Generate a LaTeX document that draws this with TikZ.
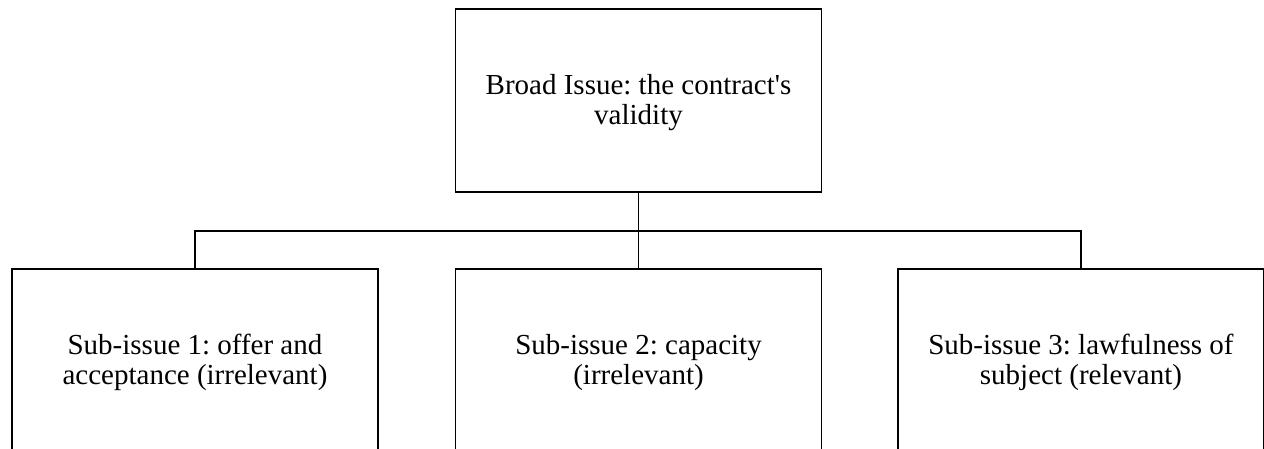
\documentclass[tikz,border=0pt]{standalone}
\usepackage{fontspec}
\setmainfont{Liberation Serif}
\usepackage{tikz}
\newcommand{\issuefont}{\fontsize{29}{29.5}\selectfont\frenchspacing\hyphenpenalty10000 }

\begin{document}
\begin{tikzpicture}[x=1pt, y=-1pt, line width=1.9pt,
  issuebox/.style={draw, minimum width=366pt, minimum height=183pt,
    text width=345pt, align=flush center, inner sep=0pt, font=\issuefont,
    execute at begin node={\rule{0pt}{24pt}}}]
  \def\ry{360.5} % row of the sub-issues
  \clip (0,0) rectangle (1264,449);
  % broad issue
  \node[issuebox] (broad) at (638.5,100.5) {Broad Issue: the contract\textquotesingle s validity};
  \coordinate (bus) at (638.5,231);
  \draw (broad.south) -- (bus);
  % sub-issues
  \foreach \i/\xx/\txt in {
    1/195/{Sub-issue 1: offer and acceptance (irrelevant)},
    2/638.5/{Sub-issue 2: capacity (irrelevant)},
    3/1081/{Sub-issue 3: lawfulness of subject (relevant)}}
  {
    \node[issuebox] (sub\i) at (\xx,\ry) {\txt};
    \draw (bus) -| (sub\i.north);
  }
\end{tikzpicture}
\end{document}
